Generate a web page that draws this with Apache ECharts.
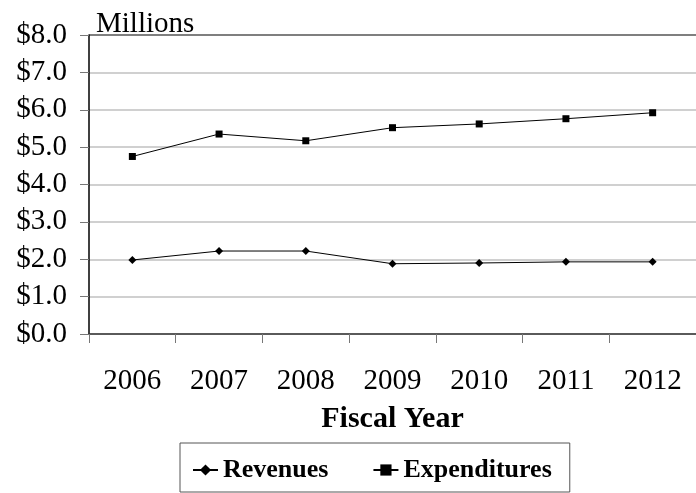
<!DOCTYPE html>
<html>
<head>
<meta charset="utf-8">
<script src="https://cdn.jsdelivr.net/npm/echarts@6/dist/echarts.min.js"></script>
<style>html,body{margin:0;padding:0;background:#fff}#c{width:696px;height:493px}</style>
</head>
<body>
<div id="c"></div>
<script>
var years = ['2006','2007','2008','2009','2010','2011','2012'];
var revenues = [1.98, 2.22, 2.22, 1.88, 1.90, 1.93, 1.93];
var expenditures = [4.75, 5.35, 5.17, 5.52, 5.62, 5.76, 5.92];
var yTicks = [0, 1, 2, 3, 4, 5, 6, 7, 8];

var FONT = "'Liberation Serif', 'Times New Roman', serif";
var chart = echarts.init(document.getElementById('c'));
var gridColors = yTicks.map(function (v, i) { return i === yTicks.length - 1 ? '#555' : '#c0c0c0'; });
chart.setOption({
  animation: false,
  backgroundColor: '#fff',
  title: {
    text: 'Millions', left: 91, top: 5,
    textStyle: { fontFamily: FONT, fontSize: 29, fontWeight: 'normal', color: '#000' }
  },
  grid: { left: 89, right: -10, top: 35, bottom: 159, containLabel: false },
  legend: {
    left: 180, top: 443,
    data: ['Revenues', 'Expenditures'],
    borderColor: '#555', borderWidth: 1,
    padding: [14, 18, 9, 12],
    itemWidth: 25, itemHeight: 14, itemGap: 44,
    textStyle: { fontFamily: FONT, fontSize: 26, fontWeight: 'bold', color: '#000' }
  },
  xAxis: {
    type: 'category', data: years, boundaryGap: true,
    name: 'Fiscal Year', nameLocation: 'middle', nameGap: 70,
    nameTextStyle: { fontFamily: FONT, fontSize: 30, fontWeight: 'bold', color: '#000' },
    axisLine: { lineStyle: { color: '#333', width: 1.5 } },
    axisTick: { show: true, alignWithLabel: false, length: 9, lineStyle: { color: '#777' } },
    axisLabel: { fontFamily: FONT, fontSize: 29, color: '#000', margin: 33 },
    splitLine: { show: false }
  },
  yAxis: {
    type: 'value', min: 0, max: 8, interval: 1,
    axisLine: { show: true, lineStyle: { color: '#000', width: 1.5 } },
    axisTick: { show: true, length: 9, lineStyle: { color: '#777' } },
    axisLabel: {
      fontFamily: FONT, fontSize: 29, color: '#000', margin: 22,
      formatter: function (v) { return '$' + v.toFixed(1); }
    },
    splitLine: { show: true, lineStyle: { color: gridColors, width: 1.5 } }
  },
  series: [
    {
      name: 'Revenues', type: 'line', data: revenues,
      symbol: 'diamond', symbolSize: 8, showSymbol: true,
      lineStyle: { color: '#000', width: 1 }, itemStyle: { color: '#000' }
    },
    {
      name: 'Expenditures', type: 'line', data: expenditures,
      symbol: 'rect', symbolSize: 7, showSymbol: true,
      lineStyle: { color: '#000', width: 1 }, itemStyle: { color: '#000' }
    }
  ]
});
</script>
</body>
</html>
